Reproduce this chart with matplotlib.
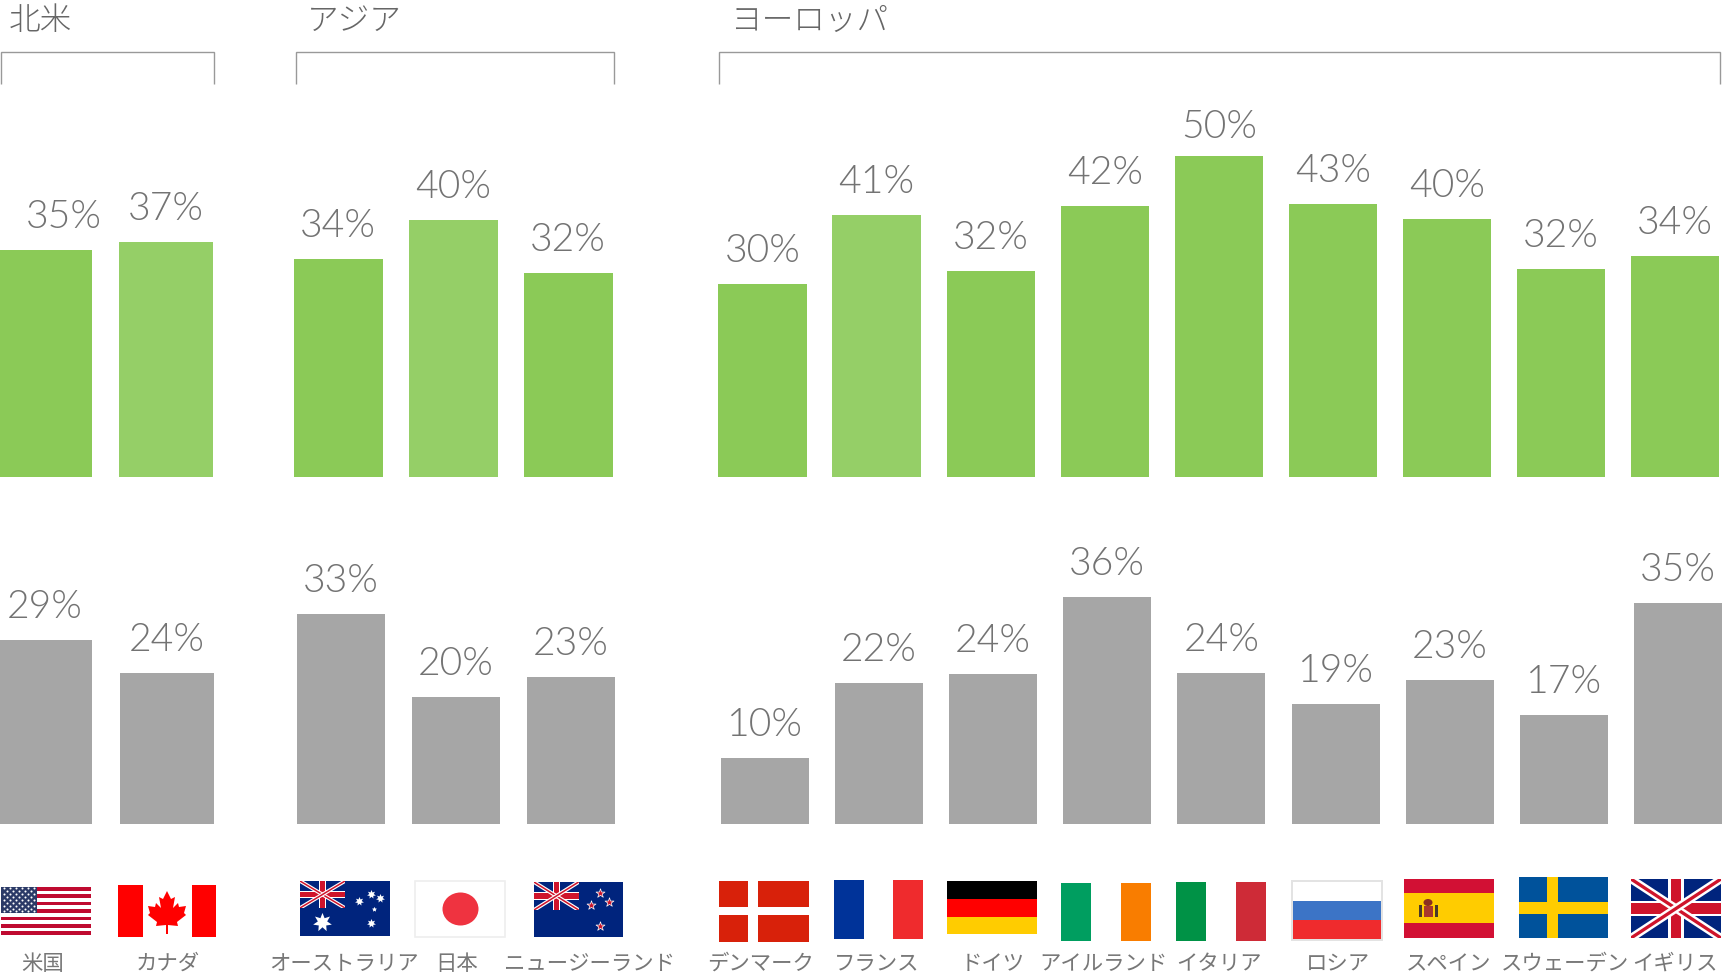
import matplotlib
matplotlib.use('Agg')
import matplotlib.pyplot as plt
from matplotlib.patches import Rectangle, Ellipse, Polygon
from matplotlib import font_manager


W, H = 1732, 974

groups = ['北米', 'アジア', 'ヨーロッパ']
group_sizes = [2, 3, 9]
countries = [
    '米国', 'カナダ',
    'オーストラリア', '日本', 'ニュージーランド',
    'デンマーク', 'フランス', 'ドイツ', 'アイルランド', 'イタリア',
    'ロシア', 'スペイン', 'スウェーデン', 'イギリス',
]

# bar heights, labels as printed
green_values = [35.4, 36.6, 34.0, 40.0, 31.8, 30.0, 40.8, 32.0, 42.2, 50.0, 42.5, 40.1, 32.4, 34.4]
green_labels = [35, 37, 34, 40, 32, 30, 41, 32, 42, 50, 43, 40, 32, 34]
gray_values = [29.2, 24.0, 33.3, 20.1, 23.3, 10.5, 22.3, 23.8, 36.0, 23.9, 19.0, 22.9, 17.3, 35.0]
gray_labels = [29, 24, 33, 20, 23, 10, 22, 24, 36, 24, 19, 23, 17, 35]

GREEN = '#8bca57'
GREEN_LIGHT = '#95cf67'
GRAY = '#a6a6a6'
TEXT = '#666666'
NUM_TEXT = '#737373'
LIGHT_BARS = ['カナダ', '日本', 'フランス']

# layout in pixels: group start, pitch, bar width
green_layout = [(-2, 121, 94), (294, 115, 88.5), (718.3, 114.1, 88.3)]
gray_layout = [(-2, 121.5, 94), (297, 114.75, 88), (721, 114.1, 88)]
label_centers = [43, 168, 344, 457, 589, 761, 877, 993, 1103, 1219, 1338, 1449, 1564.5, 1675]
brackets = [(1, 213.5), (296, 614), (719, 1720)]
header_x = [9, 307, 731]

available = {f.name for f in font_manager.fontManager.ttflist}
NUM_FONT = 'Lato' if 'Lato' in available else 'DejaVu Sans'
JP_FONT = ['Noto Sans CJK JP', 'DejaVu Sans']


def bar_positions(layout):
    lefts = []
    widths = []
    for (start, pitch, width), size in zip(layout, group_sizes):
        for i in range(size):
            lefts.append(start + i * pitch)
            widths.append(width)
    return lefts, widths


def green_color(country):
    return GREEN_LIGHT if country in LIGHT_BARS else GREEN


def gray_color(country):
    return GRAY


def draw_bars(fig, baseline, px_per_pct, values, labels, layout, color_for):
    top = 58
    bottom_frac = (H - baseline) / H
    ax = fig.add_axes([0, bottom_frac, 1, top * px_per_pct / H])
    ax.set_xlim(0, W)
    ax.set_ylim(0, top)
    ax.axis('off')
    lefts, widths = bar_positions(layout)
    colors = [color_for(c) for c in countries]
    ax.bar(lefts, values, widths, align='edge', color=colors, linewidth=0)
    for i, (left, width, value, label) in enumerate(zip(lefts, widths, values, labels)):
        center = left + width / 2
        gap = 22
        if color_for is green_color:
            # the first label sits right of its cropped bar, the tallest is closer to its bar
            if i == 0:
                center += 19
            if label == 50:
                gap = 18
        ax.annotate(
            f'{label}%', (center, value), xytext=(0, gap * 0.72),
            textcoords='offset points', ha='center', va='baseline',
            fontsize=28.2, color=NUM_TEXT, family=NUM_FONT, fontweight=300)


def rect(ax, x0, y0, x1, y1, color, **kw):
    r = Rectangle((x0, y0), x1 - x0, y1 - y0, facecolor=color, edgecolor='none', **kw)
    ax.add_patch(r)
    return r


def union_jack(ax, x0, y0, x1, y1, blue, red):
    bg = rect(ax, x0, y0, x1, y1, blue)
    w = y1 - y0
    for a, b in [((x0, y0), (x1, y1)), ((x0, y1), (x1, y0))]:
        l1, = ax.plot(*zip(a, b), color='white', lw=w * 0.1, solid_capstyle='butt')
        l2, = ax.plot(*zip(a, b), color=red, lw=w * 0.04, solid_capstyle='butt')
        l1.set_clip_path(bg)
        l2.set_clip_path(bg)
    xm, ym = (x0 + x1) / 2, (y0 + y1) / 2
    t = w * 0.13
    rect(ax, xm - t, y0, xm + t, y1, 'white')
    rect(ax, x0, ym - t, x1, ym + t, 'white')
    t = w * 0.09
    rect(ax, xm - t, y0, xm + t, y1, red)
    rect(ax, x0, ym - t, x1, ym + t, red)


def flag_us(ax):
    x0, y0, x1, y1 = 1, 887, 91, 935
    rect(ax, x0, y0, x1, y1, 'white')
    step = (y1 - y0) / 13
    for i in range(0, 13, 2):
        rect(ax, x0, y0 + i * step, x1, y0 + (i + 1) * step, '#bf0a30')
    rect(ax, x0, y0, 37, y0 + 7 * step, '#2b3a67')
    xs, ys = [], []
    for row in range(9):
        n = 6 if row % 2 == 0 else 5
        off = 0 if row % 2 == 0 else 0.5
        for c in range(n):
            xs.append(x0 + (c + off + 0.5) * (36 / 6))
            ys.append(y0 + (row + 0.5) * (7 * step / 9))
    ax.scatter(xs, ys, s=2.2, c='white', linewidths=0, zorder=3)


def flag_ca(ax):
    rect(ax, 118, 885, 216, 937, 'white')
    rect(ax, 118, 885, 142.5, 937, '#ff0000')
    rect(ax, 191.5, 885, 216, 937, '#ff0000')
    leaf = [(0, -20), (4, -12), (8, -14), (6, -3), (11, -8), (12, -4), (19, -5), (17, 2),
            (19, 4), (10, 11), (11, 15), (1, 14), (1, 23), (-1, 23), (-1, 14), (-11, 15),
            (-10, 11), (-19, 4), (-17, 2), (-19, -5), (-12, -4), (-11, -8), (-6, -3),
            (-8, -14), (-4, -12)]
    ax.add_patch(Polygon([(167 + a, 911 + b) for a, b in leaf], facecolor='#ff0000', edgecolor='none'))


def flag_au(ax):
    rect(ax, 300, 881, 390, 936, '#00247d')
    union_jack(ax, 300, 881, 345, 908, '#00247d', '#cf142b')
    ax.scatter([322], [922], s=190, marker=(7, 1, 0), c='white', linewidths=0, zorder=3)
    ax.scatter([370.5, 359, 380, 370.5], [894, 901, 898, 923], s=42, marker=(7, 1, 0),
               c='white', linewidths=0, zorder=3)
    ax.scatter([374], [909], s=14, marker=(5, 1, 0), c='white', linewidths=0, zorder=3)


def flag_jp(ax):
    r = Rectangle((415, 881), 90, 56, facecolor='white', edgecolor='#eeeeee', linewidth=1.2)
    ax.add_patch(r)
    ax.add_patch(Ellipse((460.5, 909), 36, 33, facecolor='#ef3340', edgecolor='none'))


def flag_nz(ax):
    rect(ax, 534, 882, 623, 937, '#00247d')
    union_jack(ax, 534, 882, 578.6, 910, '#00247d', '#cf142b')
    ax.scatter([600, 590.6, 609, 600], [893, 905, 902, 926], s=46, marker='*',
               c='#cc142b', edgecolors='white', linewidths=0.5, zorder=3)


def flag_dk(ax):
    rect(ax, 719, 881, 809, 942, '#d8210a')
    rect(ax, 748, 881, 758, 942, 'white')
    rect(ax, 719, 907, 809, 915, 'white')


def flag_fr(ax):
    rect(ax, 834, 880, 864, 939, '#003399')
    rect(ax, 893, 880, 923, 939, '#ef2b2d')


def flag_de(ax):
    rect(ax, 947, 881, 1037, 899, '#000000')
    rect(ax, 947, 899, 1037, 916.5, '#ff0000')
    rect(ax, 947, 916.5, 1037, 934, '#ffcc00')


def flag_ie(ax):
    rect(ax, 1061, 883, 1091, 941, '#009e60')
    rect(ax, 1121, 883, 1151, 941, '#f97d00')


def flag_it(ax):
    rect(ax, 1176, 882, 1206, 941, '#009246')
    rect(ax, 1236, 882, 1266, 941, '#ce2b37')


def flag_ru(ax):
    rect(ax, 1291, 880, 1383, 941, '#e3e3e3')
    rect(ax, 1293, 882, 1381, 901, 'white')
    rect(ax, 1293, 901, 1381, 920, '#3c74c6')
    rect(ax, 1293, 920, 1381, 939, '#ef2b2d')


def flag_es(ax):
    rect(ax, 1404, 879, 1494, 938, '#d21034')
    rect(ax, 1404, 893, 1494, 923, '#ffcc00')
    # small crest
    rect(ax, 1423.5, 906, 1433, 917, '#a8382c')
    ax.add_patch(Ellipse((1428, 902.5), 9, 7, facecolor='#8a2f20', edgecolor='none'))
    rect(ax, 1419, 905, 1421.5, 917, '#4a3a2a')
    rect(ax, 1435, 905, 1437.5, 917, '#4a3a2a')


def flag_se(ax):
    rect(ax, 1519, 877, 1608, 938, '#00529b')
    rect(ax, 1547, 877, 1558, 938, '#ffcc00')
    rect(ax, 1519, 902, 1608, 914, '#ffcc00')


def flag_uk(ax):
    union_jack(ax, 1631, 879, 1721, 938, '#00247d', '#cf142b')


def main():
    fig = plt.figure(figsize=(W / 100, H / 100), dpi=100, facecolor='white')

    draw_bars(fig, 476.9, 6.42, green_values, green_labels, green_layout, green_color)
    draw_bars(fig, 824.2, 6.31, gray_values, gray_labels, gray_layout, gray_color)

    # overlay in pixel coordinates for headers, brackets, flags and names
    ax = fig.add_axes([0, 0, 1, 1])
    ax.set_xlim(0, W)
    ax.set_ylim(H, 0)
    ax.axis('off')
    ax.patch.set_alpha(0)

    for name, x in zip(groups, header_x):
        ax.text(x, 20.5, name, fontsize=22.8, color=TEXT, family=JP_FONT,
                ha='left', va='center', fontweight='light')

    for x0, x1 in brackets:
        ax.plot([x0, x0, x1, x1], [84, 51.5, 51.5, 84], color='#999999', lw=1.0,
                solid_joinstyle='miter', solid_capstyle='butt')

    for draw_flag in [flag_us, flag_ca, flag_au, flag_jp, flag_nz, flag_dk, flag_fr,
                      flag_de, flag_ie, flag_it, flag_ru, flag_es, flag_se, flag_uk]:
        draw_flag(ax)

    for name, x in zip(countries, label_centers):
        ax.text(x, 964, name, fontsize=15.4, color='#777777', family=JP_FONT,
                ha='center', va='center')

    fig.savefig('out.png', dpi=100)


if __name__ == '__main__':
    main()
